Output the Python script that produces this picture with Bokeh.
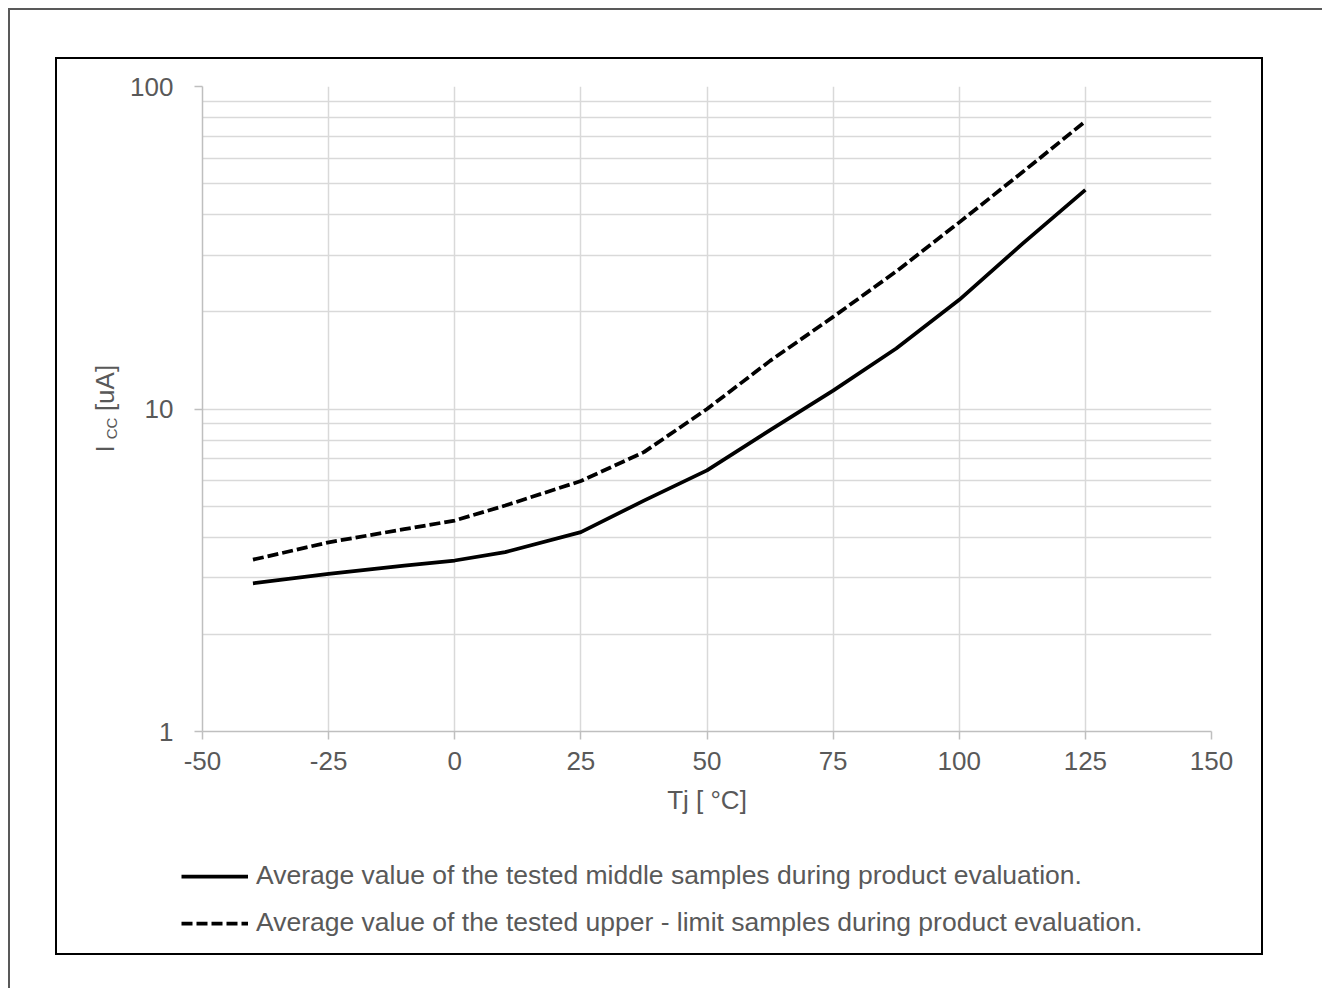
import math
from bokeh.plotting import figure
from bokeh.models import FixedTicker, Legend, LegendItem, Title, Range1d, Spacer
from bokeh.layouts import column, row
from bokeh.embed import file_html
from bokeh.resources import INLINE

# ---- data ----
temps = [-40, -25, -10, 0, 10, 25, 37.5, 50, 62.5, 75, 87.5, 100, 112.5, 125]
icc_middle = [2.88, 3.08, 3.27, 3.39, 3.60, 4.15, 5.20, 6.45, 8.6, 11.4, 15.4, 21.8, 32.5, 47.8]
icc_upper = [3.41, 3.86, 4.24, 4.51, 5.02, 5.98, 7.35, 10.0, 14.1, 19.3, 26.7, 37.9, 54.2, 78.0]

x_ticks = [-50, -25, 0, 25, 50, 75, 100, 125, 150]
x_tick_labels = ["-50", "-25", "0", "25", "50", "75", "100", "125", "150"]
y_ticks = [1, 10, 100]
y_tick_labels = ["1", "10", "100"]
y_minor = [2, 3, 4, 5, 6, 7, 8, 9, 20, 30, 40, 50, 60, 70, 80, 90]

legend_labels = [
    "Average value of the tested middle samples during product evaluation.",
    "Average value of the tested upper - limit samples during product evaluation.",
]
x_label = "Tj [ °C]"
y_label_parts = ["[uA]", "CC", "I"]   # top to bottom (text reads upward)

FONT = "Liberation Sans"
GRAY = "#595959"
GRID = "#d9d9d9"
AXIS = "#bfbfbf"
SOLID = dict(line_color="black", line_width=3.75, line_join="round")
DASHED = dict(line_color="black", line_width=3.75, line_dash="11 4", line_join="round")
YLAB_W = 70


def blank(w, h, **kw):
    f = figure(width=w, height=h, x_range=Range1d(0, 1), y_range=Range1d(0, 1),
               x_axis_location=None, y_axis_location=None,
               output_backend="svg", toolbar_location=None, min_border=0,
               frame_align=False, **kw)
    f.outline_line_color = None
    f.grid.visible = False
    return f


# ---- main plot ----
p = figure(
    width=1204 - YLAB_W, height=781,
    x_range=Range1d(-50, 150), y_range=Range1d(1, 100),
    y_axis_type="log",
    output_backend="svg", toolbar_location=None,
    min_border_left=201 - 57 - YLAB_W, min_border_right=50,
    min_border_top=27, min_border_bottom=109,
    frame_align=False,
)
p.outline_line_color = None

xt = FixedTicker(ticks=x_ticks)
yt = FixedTicker(ticks=y_ticks, minor_ticks=y_minor)
p.xaxis.ticker = xt
p.yaxis.ticker = yt
p.xgrid.ticker = xt
p.ygrid.ticker = yt

p.xgrid.grid_line_color = GRID
p.ygrid.grid_line_color = GRID
p.ygrid.minor_grid_line_color = GRID
p.xgrid.grid_line_width = 1.5
p.ygrid.grid_line_width = 1.5
p.ygrid.minor_grid_line_width = 1.5

for ax in (p.xaxis[0], p.yaxis[0]):
    ax.axis_line_color = AXIS
    ax.axis_line_width = 1.5
    ax.major_tick_line_color = AXIS
    ax.major_tick_line_width = 1.5
    ax.major_tick_in = 0
    ax.major_tick_out = 8
    ax.minor_tick_in = 0
    ax.minor_tick_out = 0
    ax.major_label_text_font = FONT
    ax.major_label_text_font_size = "26px"
    ax.major_label_text_color = GRAY

p.xaxis.major_label_overrides = dict(zip(x_ticks, x_tick_labels))
p.yaxis.major_label_overrides = dict(zip(y_ticks, y_tick_labels))
p.yaxis.major_label_standoff = 21
p.xaxis.major_label_standoff = 12

p.xaxis.axis_label = x_label
p.xaxis.axis_label_text_font = FONT
p.xaxis.axis_label_text_font_size = "26px"
p.xaxis.axis_label_text_font_style = "normal"
p.xaxis.axis_label_text_color = GRAY
p.xaxis.axis_label_standoff = 12

p.line(temps, icc_middle, **SOLID)
p.line(temps, icc_upper, **DASHED)

# ---- legend strip below the plot (key renderers hold no visible data) ----
lg = blank(1204 - YLAB_W, 113)
k1 = lg.line([math.nan], [math.nan], **SOLID)
k2 = lg.line([math.nan], [math.nan], **DASHED)
legend = Legend(
    items=[LegendItem(label=legend_labels[0], renderers=[k1]),
           LegendItem(label=legend_labels[1], renderers=[k2])],
    location=(181 - 57 - YLAB_W, 15),
    orientation="vertical",
    margin=0, padding=5, spacing=16,
    glyph_width=67, glyph_height=24, label_height=24,
    label_standoff=8,
    label_text_font=FONT, label_text_font_size="26.5px", label_text_color=GRAY,
    border_line_color=None, background_fill_alpha=0,
)
lg.add_layout(legend)

# ---- rotated y axis title "I_CC [uA]" built from stacked pieces ----
part_sizes = ["26px", "15px", "26px"]
part_heights = [55, 26, 15]
top_gap = 301
pieces = [Spacer(width=YLAB_W, height=top_gap)]
for txt, fs, h in zip(y_label_parts, part_sizes, part_heights):
    f = blank(YLAB_W, h, min_border_left=62)
    f.add_layout(Title(text=txt, text_font=FONT, text_font_size=fs, text_font_style="normal",
                       text_color=GRAY, align="center", standoff=0), "left")
    pieces.append(f)
pieces.append(Spacer(width=YLAB_W, height=894 - top_gap - sum(part_heights)))
ylab = column(*pieces, spacing=0)

box = row(ylab, column(p, lg, spacing=0), spacing=0, width=1208, height=898,
          margin=(47, 59, 33, 45), styles={"border": "2px solid black"})

outer = column(box, margin=(8, 0, 0, 8),
               styles={"border-left": "2px solid #595959", "border-top": "2px solid #595959"})

open("out.html", "w").write(file_html(outer, INLINE))
